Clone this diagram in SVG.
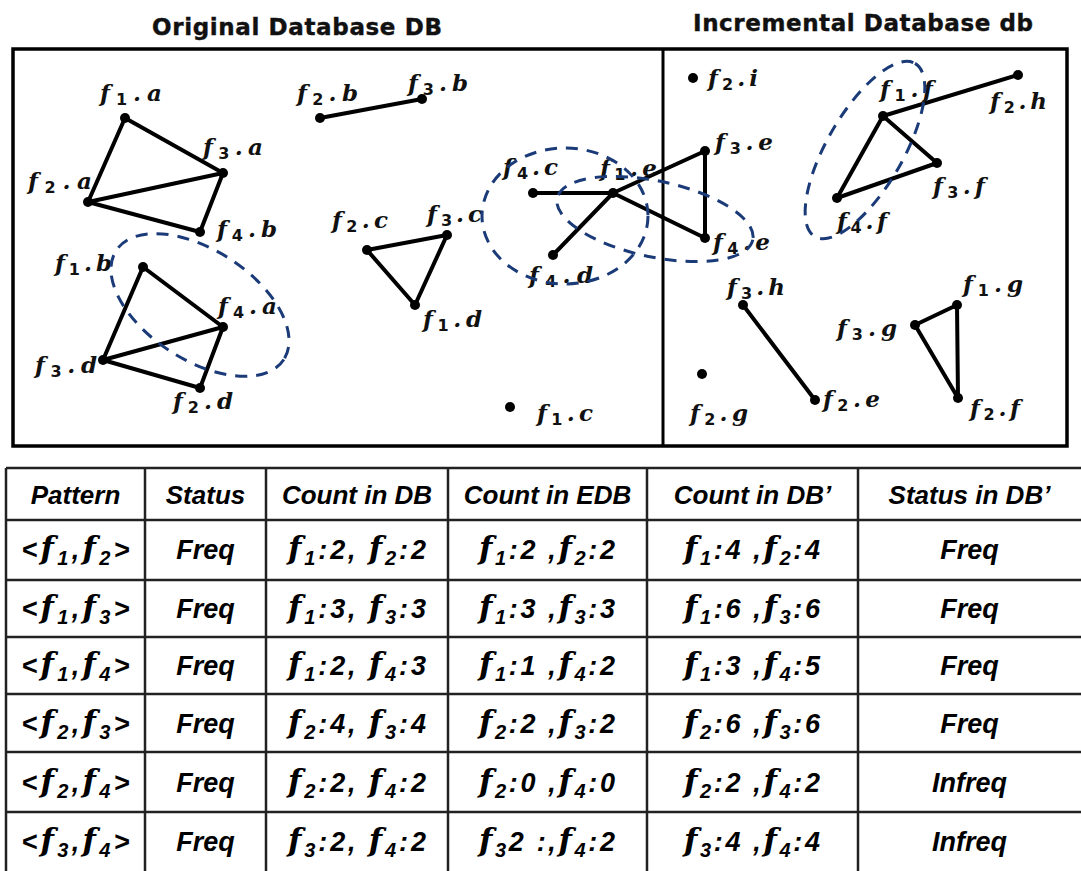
<svg xmlns="http://www.w3.org/2000/svg" width="1081" height="871" viewBox="0 0 1081 871">
<style>
.ln{stroke:#000;stroke-width:4;stroke-linecap:round}
.dot{fill:#000}
.lb{font-family:"DejaVu Serif",serif;font-weight:bold;font-style:italic;font-size:23px;fill:#111}
.sb{font-family:"DejaVu Sans",sans-serif;font-size:16px;font-style:normal}
.cl{fill:none;stroke:#1b3a78;stroke-width:3;stroke-dasharray:12 9}
.frame{fill:none;stroke:#000;stroke-width:3.5}
.title{font-family:"DejaVu Sans",sans-serif;font-weight:bold;font-size:23px;fill:#111;stroke:#111;stroke-width:0.4}
.tb{stroke:#222;stroke-width:2.5}
.th{font-family:"Liberation Sans",Arial,sans-serif;font-weight:bold;font-style:italic;font-size:26px;text-anchor:middle;fill:#000}
.td{font-family:"Liberation Sans",Arial,sans-serif;font-weight:bold;font-style:italic;font-size:27px;text-anchor:middle;fill:#000}
.mf{font-family:"DejaVu Serif",serif;font-size:31px}
.ms{font-size:20px}
</style>

<g id="titles">
<text class="title" x="152" y="35" textLength="290" lengthAdjust="spacing">Original Database DB</text>
<text class="title" x="693" y="31" textLength="340" lengthAdjust="spacing">Incremental Database db</text>
</g>

<g id="frame">
<rect class="frame" x="13" y="49" width="1054" height="397"/>
<line x1="663" y1="49" x2="663" y2="446" stroke="#000" stroke-width="3"/>
</g>

<g id="connectors">
<line class="ln" x1="125" y1="118" x2="223" y2="173"/>
<line class="ln" x1="125" y1="118" x2="88" y2="202"/>
<line class="ln" x1="88" y1="202" x2="223" y2="173"/>
<line class="ln" x1="88" y1="202" x2="200" y2="232"/>
<line class="ln" x1="223" y1="173" x2="200" y2="232"/>
<line class="ln" x1="143" y1="267" x2="223" y2="327"/>
<line class="ln" x1="143" y1="267" x2="103" y2="360"/>
<line class="ln" x1="103" y1="360" x2="223" y2="327"/>
<line class="ln" x1="103" y1="360" x2="200" y2="388"/>
<line class="ln" x1="200" y1="388" x2="223" y2="327"/>
<line class="ln" x1="320" y1="118" x2="422" y2="99"/>
<line class="ln" x1="367" y1="250" x2="447" y2="235"/>
<line class="ln" x1="367" y1="250" x2="415" y2="305"/>
<line class="ln" x1="447" y1="235" x2="415" y2="305"/>
<line class="ln" x1="533" y1="193" x2="613" y2="193"/>
<line class="ln" x1="553" y1="255" x2="613" y2="193"/>
<line class="ln" x1="613" y1="193" x2="705" y2="151"/>
<line class="ln" x1="613" y1="193" x2="705" y2="238"/>
<line class="ln" x1="705" y1="151" x2="705" y2="238"/>
<line class="ln" x1="883" y1="116" x2="1018" y2="75"/>
<line class="ln" x1="883" y1="116" x2="937" y2="163"/>
<line class="ln" x1="883" y1="116" x2="837" y2="198"/>
<line class="ln" x1="837" y1="198" x2="937" y2="163"/>
<line class="ln" x1="743" y1="305" x2="815" y2="400"/>
<line class="ln" x1="915" y1="325" x2="957" y2="305"/>
<line class="ln" x1="957" y1="305" x2="958" y2="398"/>
<line class="ln" x1="915" y1="325" x2="958" y2="398"/>
</g>

<g id="n-f1a"><circle class="dot" cx="125" cy="118" r="5"/><text class="lb" x="100" y="101" textLength="62" lengthAdjust="spacing">f<tspan class="sb" dy="4">1</tspan><tspan dy="-4">.a</tspan></text></g>
<g id="n-f3a"><circle class="dot" cx="223" cy="173" r="5"/><text class="lb" x="203" y="155" textLength="60" lengthAdjust="spacing">f<tspan class="sb" dy="4">3</tspan><tspan dy="-4">.a</tspan></text></g>
<g id="n-f2a"><circle class="dot" cx="88" cy="202" r="5"/><text class="lb" x="28" y="189" textLength="64" lengthAdjust="spacing">f<tspan class="sb" dy="4">2</tspan><tspan dy="-4">.a</tspan></text></g>
<g id="n-f4b"><circle class="dot" cx="200" cy="232" r="5"/><text class="lb" x="217" y="237" textLength="60" lengthAdjust="spacing">f<tspan class="sb" dy="4">4</tspan><tspan dy="-4">.b</tspan></text></g>
<g id="n-f1b"><circle class="dot" cx="143" cy="267" r="5"/><text class="lb" x="55" y="271" textLength="57" lengthAdjust="spacing">f<tspan class="sb" dy="4">1</tspan><tspan dy="-4">.b</tspan></text></g>
<g id="n-f4a"><circle class="dot" cx="223" cy="327" r="5"/><text class="lb" x="218" y="314" textLength="59" lengthAdjust="spacing">f<tspan class="sb" dy="4">4</tspan><tspan dy="-4">.a</tspan></text></g>
<g id="n-f3d"><circle class="dot" cx="103" cy="360" r="5"/><text class="lb" x="35" y="373" textLength="62" lengthAdjust="spacing">f<tspan class="sb" dy="4">3</tspan><tspan dy="-4">.d</tspan></text></g>
<g id="n-f2d"><circle class="dot" cx="200" cy="388" r="5"/><text class="lb" x="173" y="409" textLength="60" lengthAdjust="spacing">f<tspan class="sb" dy="4">2</tspan><tspan dy="-4">.d</tspan></text></g>
<g id="n-f2b"><circle class="dot" cx="320" cy="118" r="5"/><text class="lb" x="297" y="101" textLength="61" lengthAdjust="spacing">f<tspan class="sb" dy="4">2</tspan><tspan dy="-4">.b</tspan></text></g>
<g id="n-f3b"><circle class="dot" cx="422" cy="99" r="5"/><text class="lb" x="408" y="91" textLength="60" lengthAdjust="spacing">f<tspan class="sb" dy="4">3</tspan><tspan dy="-4">.b</tspan></text></g>
<g id="n-f2c"><circle class="dot" cx="367" cy="250" r="5"/><text class="lb" x="332" y="228" textLength="56" lengthAdjust="spacing">f<tspan class="sb" dy="4">2</tspan><tspan dy="-4">.c</tspan></text></g>
<g id="n-f3c"><circle class="dot" cx="447" cy="235" r="5"/><text class="lb" x="427" y="222" textLength="55" lengthAdjust="spacing">f<tspan class="sb" dy="4">3</tspan><tspan dy="-4">.c</tspan></text></g>
<g id="n-f1d"><circle class="dot" cx="415" cy="305" r="5"/><text class="lb" x="423" y="327" textLength="59" lengthAdjust="spacing">f<tspan class="sb" dy="4">1</tspan><tspan dy="-4">.d</tspan></text></g>
<g id="n-f1c"><circle class="dot" cx="510" cy="407" r="5"/><text class="lb" x="537" y="421" textLength="56" lengthAdjust="spacing">f<tspan class="sb" dy="4">1</tspan><tspan dy="-4">.c</tspan></text></g>
<g id="n-f4c"><circle class="dot" cx="533" cy="193" r="5"/><text class="lb" x="503" y="175" textLength="55" lengthAdjust="spacing">f<tspan class="sb" dy="4">4</tspan><tspan dy="-4">.c</tspan></text></g>
<g id="n-f1e"><circle class="dot" cx="613" cy="193" r="5"/><text class="lb" x="600" y="176" textLength="57" lengthAdjust="spacing">f<tspan class="sb" dy="4">1</tspan><tspan dy="-4">.e</tspan></text></g>
<g id="n-f4d"><circle class="dot" cx="553" cy="255" r="5"/><text class="lb" x="529" y="283" textLength="64" lengthAdjust="spacing">f<tspan class="sb" dy="4">4</tspan><tspan dy="-4">.d</tspan></text></g>
<g id="n-f3e"><circle class="dot" cx="705" cy="151" r="5"/><text class="lb" x="715" y="150" textLength="58" lengthAdjust="spacing">f<tspan class="sb" dy="4">3</tspan><tspan dy="-4">.e</tspan></text></g>
<g id="n-f4e"><circle class="dot" cx="705" cy="238" r="5"/><text class="lb" x="713" y="250" textLength="57" lengthAdjust="spacing">f<tspan class="sb" dy="4">4</tspan><tspan dy="-4">.e</tspan></text></g>
<g id="n-f2i"><circle class="dot" cx="693" cy="78" r="5"/><text class="lb" x="708" y="86" textLength="50" lengthAdjust="spacing">f<tspan class="sb" dy="4">2</tspan><tspan dy="-4">.i</tspan></text></g>
<g id="n-f1f"><circle class="dot" cx="883" cy="116" r="5"/><text class="lb" x="880" y="97" textLength="53" lengthAdjust="spacing">f<tspan class="sb" dy="4">1</tspan><tspan dy="-4">.f</tspan></text></g>
<g id="n-f2h"><circle class="dot" cx="1018" cy="75" r="5"/><text class="lb" x="990" y="109" textLength="57" lengthAdjust="spacing">f<tspan class="sb" dy="4">2</tspan><tspan dy="-4">.h</tspan></text></g>
<g id="n-f3f"><circle class="dot" cx="937" cy="163" r="5"/><text class="lb" x="933" y="194" textLength="52" lengthAdjust="spacing">f<tspan class="sb" dy="4">3</tspan><tspan dy="-4">.f</tspan></text></g>
<g id="n-f4f"><circle class="dot" cx="837" cy="198" r="5"/><text class="lb" x="837" y="229" textLength="50" lengthAdjust="spacing">f<tspan class="sb" dy="4">4</tspan><tspan dy="-4">.f</tspan></text></g>
<g id="n-f3h"><circle class="dot" cx="743" cy="305" r="5"/><text class="lb" x="727" y="295" textLength="58" lengthAdjust="spacing">f<tspan class="sb" dy="4">3</tspan><tspan dy="-4">.h</tspan></text></g>
<g id="n-f2e"><circle class="dot" cx="815" cy="400" r="5"/><text class="lb" x="823" y="407" textLength="57" lengthAdjust="spacing">f<tspan class="sb" dy="4">2</tspan><tspan dy="-4">.e</tspan></text></g>
<g id="n-f2g"><circle class="dot" cx="702" cy="374" r="5"/><text class="lb" x="690" y="421" textLength="58" lengthAdjust="spacing">f<tspan class="sb" dy="4">2</tspan><tspan dy="-4">.g</tspan></text></g>
<g id="n-f3g"><circle class="dot" cx="915" cy="325" r="5"/><text class="lb" x="837" y="336" textLength="60" lengthAdjust="spacing">f<tspan class="sb" dy="4">3</tspan><tspan dy="-4">.g</tspan></text></g>
<g id="n-f1g"><circle class="dot" cx="957" cy="305" r="5"/><text class="lb" x="963" y="292" textLength="60" lengthAdjust="spacing">f<tspan class="sb" dy="4">1</tspan><tspan dy="-4">.g</tspan></text></g>
<g id="n-f2f"><circle class="dot" cx="958" cy="398" r="5"/><text class="lb" x="970" y="416" textLength="50" lengthAdjust="spacing">f<tspan class="sb" dy="4">2</tspan><tspan dy="-4">.f</tspan></text></g>

<g id="clusters">
<ellipse class="cl" cx="200" cy="305" rx="100" ry="55" transform="rotate(33 200 305)"/>
<ellipse class="cl" cx="565" cy="216" rx="83" ry="68"/>
<ellipse class="cl" cx="655" cy="219" rx="100" ry="38" transform="rotate(12 655 219)"/>
<ellipse class="cl" cx="865" cy="150" rx="100" ry="38" transform="rotate(-60 865 150)"/>
</g>

<g id="table">
<g id="grid">
<line class="tb" x1="6" y1="468" x2="1081" y2="468"/>
<line class="tb" x1="6" y1="520" x2="1081" y2="520"/>
<line class="tb" x1="6" y1="580" x2="1081" y2="580"/>
<line class="tb" x1="6" y1="637" x2="1081" y2="637"/>
<line class="tb" x1="6" y1="694" x2="1081" y2="694"/>
<line class="tb" x1="6" y1="752" x2="1081" y2="752"/>
<line class="tb" x1="6" y1="812" x2="1081" y2="812"/>
<line class="tb" x1="6" y1="468" x2="6" y2="871"/>
<line class="tb" x1="145" y1="468" x2="145" y2="871"/>
<line class="tb" x1="266" y1="468" x2="266" y2="871"/>
<line class="tb" x1="448" y1="468" x2="448" y2="871"/>
<line class="tb" x1="647" y1="468" x2="647" y2="871"/>
<line class="tb" x1="858" y1="468" x2="858" y2="871"/>
</g>
<g id="header">
<text class="th" x="75.5" y="504">Pattern</text>
<text class="th" x="205.5" y="504">Status</text>
<text class="th" x="357" y="504">Count in DB</text>
<text class="th" x="547.5" y="504">Count in EDB</text>
<text class="th" x="752.5" y="504">Count in DB’</text>
<text class="th" x="969.5" y="504">Status in DB’</text>
</g>
<g id="row1">
<text class="td" x="75.5" y="559" textLength="108" lengthAdjust="spacing">&lt;<tspan class="mf">f</tspan><tspan class="ms" dy="6">1</tspan><tspan dy="-6">,</tspan><tspan class="mf">f</tspan><tspan class="ms" dy="6">2</tspan><tspan dy="-6">&gt;</tspan></text>
<text class="td" x="205.5" y="559">Freq</text>
<text class="td" x="357" y="559" textLength="138" lengthAdjust="spacing"><tspan class="mf">f</tspan><tspan class="ms" dy="6">1</tspan><tspan dy="-6">:2, </tspan><tspan class="mf">f</tspan><tspan class="ms" dy="6">2</tspan><tspan dy="-6">:2</tspan></text>
<text class="td" x="547" y="559" textLength="136" lengthAdjust="spacing"><tspan class="mf">f</tspan><tspan class="ms" dy="6">1</tspan><tspan dy="-6">:2 ,</tspan><tspan class="mf">f</tspan><tspan class="ms" dy="6">2</tspan><tspan dy="-6">:2</tspan></text>
<text class="td" x="752" y="559" textLength="136" lengthAdjust="spacing"><tspan class="mf">f</tspan><tspan class="ms" dy="6">1</tspan><tspan dy="-6">:4 ,</tspan><tspan class="mf">f</tspan><tspan class="ms" dy="6">2</tspan><tspan dy="-6">:4</tspan></text>
<text class="td" x="969.5" y="559">Freq</text>
</g>
<g id="row2">
<text class="td" x="75.5" y="618" textLength="108" lengthAdjust="spacing">&lt;<tspan class="mf">f</tspan><tspan class="ms" dy="6">1</tspan><tspan dy="-6">,</tspan><tspan class="mf">f</tspan><tspan class="ms" dy="6">3</tspan><tspan dy="-6">&gt;</tspan></text>
<text class="td" x="205.5" y="618">Freq</text>
<text class="td" x="357" y="618" textLength="138" lengthAdjust="spacing"><tspan class="mf">f</tspan><tspan class="ms" dy="6">1</tspan><tspan dy="-6">:3, </tspan><tspan class="mf">f</tspan><tspan class="ms" dy="6">3</tspan><tspan dy="-6">:3</tspan></text>
<text class="td" x="547" y="618" textLength="136" lengthAdjust="spacing"><tspan class="mf">f</tspan><tspan class="ms" dy="6">1</tspan><tspan dy="-6">:3 ,</tspan><tspan class="mf">f</tspan><tspan class="ms" dy="6">3</tspan><tspan dy="-6">:3</tspan></text>
<text class="td" x="752" y="618" textLength="136" lengthAdjust="spacing"><tspan class="mf">f</tspan><tspan class="ms" dy="6">1</tspan><tspan dy="-6">:6 ,</tspan><tspan class="mf">f</tspan><tspan class="ms" dy="6">3</tspan><tspan dy="-6">:6</tspan></text>
<text class="td" x="969.5" y="618">Freq</text>
</g>
<g id="row3">
<text class="td" x="75.5" y="675" textLength="108" lengthAdjust="spacing">&lt;<tspan class="mf">f</tspan><tspan class="ms" dy="6">1</tspan><tspan dy="-6">,</tspan><tspan class="mf">f</tspan><tspan class="ms" dy="6">4</tspan><tspan dy="-6">&gt;</tspan></text>
<text class="td" x="205.5" y="675">Freq</text>
<text class="td" x="357" y="675" textLength="138" lengthAdjust="spacing"><tspan class="mf">f</tspan><tspan class="ms" dy="6">1</tspan><tspan dy="-6">:2, </tspan><tspan class="mf">f</tspan><tspan class="ms" dy="6">4</tspan><tspan dy="-6">:3</tspan></text>
<text class="td" x="547" y="675" textLength="136" lengthAdjust="spacing"><tspan class="mf">f</tspan><tspan class="ms" dy="6">1</tspan><tspan dy="-6">:1 ,</tspan><tspan class="mf">f</tspan><tspan class="ms" dy="6">4</tspan><tspan dy="-6">:2</tspan></text>
<text class="td" x="752" y="675" textLength="136" lengthAdjust="spacing"><tspan class="mf">f</tspan><tspan class="ms" dy="6">1</tspan><tspan dy="-6">:3 ,</tspan><tspan class="mf">f</tspan><tspan class="ms" dy="6">4</tspan><tspan dy="-6">:5</tspan></text>
<text class="td" x="969.5" y="675">Freq</text>
</g>
<g id="row4">
<text class="td" x="75.5" y="733" textLength="108" lengthAdjust="spacing">&lt;<tspan class="mf">f</tspan><tspan class="ms" dy="6">2</tspan><tspan dy="-6">,</tspan><tspan class="mf">f</tspan><tspan class="ms" dy="6">3</tspan><tspan dy="-6">&gt;</tspan></text>
<text class="td" x="205.5" y="733">Freq</text>
<text class="td" x="357" y="733" textLength="138" lengthAdjust="spacing"><tspan class="mf">f</tspan><tspan class="ms" dy="6">2</tspan><tspan dy="-6">:4, </tspan><tspan class="mf">f</tspan><tspan class="ms" dy="6">3</tspan><tspan dy="-6">:4</tspan></text>
<text class="td" x="547" y="733" textLength="136" lengthAdjust="spacing"><tspan class="mf">f</tspan><tspan class="ms" dy="6">2</tspan><tspan dy="-6">:2 ,</tspan><tspan class="mf">f</tspan><tspan class="ms" dy="6">3</tspan><tspan dy="-6">:2</tspan></text>
<text class="td" x="752" y="733" textLength="136" lengthAdjust="spacing"><tspan class="mf">f</tspan><tspan class="ms" dy="6">2</tspan><tspan dy="-6">:6 ,</tspan><tspan class="mf">f</tspan><tspan class="ms" dy="6">3</tspan><tspan dy="-6">:6</tspan></text>
<text class="td" x="969.5" y="733">Freq</text>
</g>
<g id="row5">
<text class="td" x="75.5" y="792" textLength="108" lengthAdjust="spacing">&lt;<tspan class="mf">f</tspan><tspan class="ms" dy="6">2</tspan><tspan dy="-6">,</tspan><tspan class="mf">f</tspan><tspan class="ms" dy="6">4</tspan><tspan dy="-6">&gt;</tspan></text>
<text class="td" x="205.5" y="792">Freq</text>
<text class="td" x="357" y="792" textLength="138" lengthAdjust="spacing"><tspan class="mf">f</tspan><tspan class="ms" dy="6">2</tspan><tspan dy="-6">:2, </tspan><tspan class="mf">f</tspan><tspan class="ms" dy="6">4</tspan><tspan dy="-6">:2</tspan></text>
<text class="td" x="547" y="792" textLength="136" lengthAdjust="spacing"><tspan class="mf">f</tspan><tspan class="ms" dy="6">2</tspan><tspan dy="-6">:0 ,</tspan><tspan class="mf">f</tspan><tspan class="ms" dy="6">4</tspan><tspan dy="-6">:0</tspan></text>
<text class="td" x="752" y="792" textLength="136" lengthAdjust="spacing"><tspan class="mf">f</tspan><tspan class="ms" dy="6">2</tspan><tspan dy="-6">:2 ,</tspan><tspan class="mf">f</tspan><tspan class="ms" dy="6">4</tspan><tspan dy="-6">:2</tspan></text>
<text class="td" x="969.5" y="792">Infreq</text>
</g>
<g id="row6">
<text class="td" x="75.5" y="851" textLength="108" lengthAdjust="spacing">&lt;<tspan class="mf">f</tspan><tspan class="ms" dy="6">3</tspan><tspan dy="-6">,</tspan><tspan class="mf">f</tspan><tspan class="ms" dy="6">4</tspan><tspan dy="-6">&gt;</tspan></text>
<text class="td" x="205.5" y="851">Freq</text>
<text class="td" x="357" y="851" textLength="138" lengthAdjust="spacing"><tspan class="mf">f</tspan><tspan class="ms" dy="6">3</tspan><tspan dy="-6">:2, </tspan><tspan class="mf">f</tspan><tspan class="ms" dy="6">4</tspan><tspan dy="-6">:2</tspan></text>
<text class="td" x="547" y="851" textLength="136" lengthAdjust="spacing"><tspan class="mf">f</tspan><tspan class="ms" dy="6">3</tspan><tspan dy="-6">2 :,</tspan><tspan class="mf">f</tspan><tspan class="ms" dy="6">4</tspan><tspan dy="-6">:2</tspan></text>
<text class="td" x="752" y="851" textLength="136" lengthAdjust="spacing"><tspan class="mf">f</tspan><tspan class="ms" dy="6">3</tspan><tspan dy="-6">:4 ,</tspan><tspan class="mf">f</tspan><tspan class="ms" dy="6">4</tspan><tspan dy="-6">:4</tspan></text>
<text class="td" x="969.5" y="851">Infreq</text>
</g>
</g>
</svg>
